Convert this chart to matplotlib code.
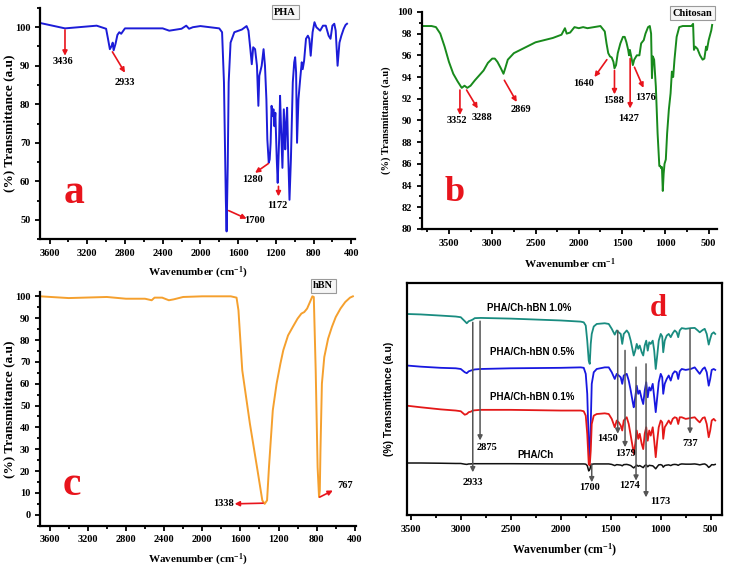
import matplotlib
matplotlib.use("Agg")
import matplotlib.pyplot as plt
from matplotlib.ticker import MultipleLocator

plt.rcParams['font.family'] = 'Liberation Serif'
plt.rcParams['font.weight'] = 'bold'
plt.rcParams['mathtext.fontset'] = 'custom'
plt.rcParams['mathtext.rm'] = 'Liberation Serif:bold'
plt.rcParams['mathtext.bf'] = 'Liberation Serif:bold'
plt.rcParams['mathtext.default'] = 'rm'

# ---- panel a: PHA ----
pha_wn = [3700, 3436, 3100, 3000, 2980, 2960, 2940, 2930, 2920, 2900, 2880, 2860, 2840, 2800,
          2400, 2330, 2200, 2150, 2120, 2080, 2000, 1800, 1770, 1750, 1730, 1722, 1710, 1700,
          1680, 1640, 1560, 1510, 1490, 1470, 1455, 1440, 1420, 1400, 1385, 1375, 1350, 1330,
          1315, 1300, 1290, 1275, 1265, 1255, 1245, 1235, 1225, 1215, 1205, 1190, 1180, 1165,
          1155, 1145, 1130, 1115, 1100, 1090, 1080, 1070, 1055, 1040, 1020, 1005, 995, 985,
          975, 960, 940, 925, 915, 900, 880, 860, 845, 830, 810, 790, 770, 730, 700, 670,
          640, 620, 600, 580, 565, 545, 525, 505, 480, 460, 445]
pha_t = [101.1, 99.7, 100.4, 99.6, 97.0, 94.3, 95.2, 96.0, 94.0, 95.7, 98.0, 98.7, 98.3, 99.7,
         99.7, 99.1, 99.6, 100.4, 99.6, 100.0, 100.3, 99.7, 98.7, 85.7, 55.0, 47.0, 64.0, 85.7,
         96.0, 98.7, 99.4, 100.3, 99.1, 94.3, 90.4, 94.8, 94.3, 90.0, 79.6, 87.4, 90.0, 94.3,
         90.0, 81.3, 70.9, 64.8, 65.7, 70.0, 79.6, 77.0, 78.7, 74.3, 77.8, 65.7, 59.6, 70.9,
         82.2, 74.3, 63.5, 78.7, 68.3, 75.2, 79.1, 68.3, 55.2, 65.7, 85.7, 90.9, 92.2, 88.3,
         70.0, 81.3, 87.0, 90.9, 89.1, 91.3, 97.0, 97.8, 97.0, 92.6, 98.7, 101.3, 100.0, 99.1, 100.4, 100.4,
         97.8, 97.0, 100.4, 100.9, 99.1, 90.0, 96.0, 97.8, 99.6, 100.6, 100.9]

# ---- panel b: Chitosan ----
chit_wn = [3800, 3700, 3650, 3600, 3550, 3500, 3450, 3400, 3352, 3320, 3288, 3250, 3200, 3100,
           3050, 3000, 2970, 2940, 2900, 2870, 2850, 2820, 2750, 2500, 2300, 2200, 2160, 2140,
           2100, 2050, 2000, 1950, 1900, 1750, 1700, 1680, 1660, 1640, 1620, 1600, 1588, 1570,
           1550, 1520, 1490, 1470, 1450, 1430, 1420, 1410, 1390, 1376, 1360, 1330, 1300, 1280,
           1250, 1230, 1200, 1180, 1165, 1155, 1145, 1130, 1110, 1090, 1070, 1060, 1050, 1040,
           1030, 1020, 1010, 995, 980, 960, 940, 925, 910, 895, 870, 840, 800, 700, 680, 670,
           655, 630, 600, 570, 550, 530, 520, 500, 470, 460]
chit_t = [98.7, 98.7, 98.6, 98.0, 96.8, 95.4, 94.3, 93.6, 93.0, 93.2, 93.0, 93.2, 93.7, 94.6,
          95.3, 95.7, 95.7, 95.4, 94.8, 94.3, 94.8, 95.6, 96.2, 97.2, 97.6, 97.9, 98.5, 98.0,
          98.1, 98.6, 98.5, 98.6, 98.5, 98.7, 98.2, 97.1, 96.2, 95.9, 95.8, 95.4, 94.8, 95.1,
          96.2, 97.1, 97.7, 97.7, 97.2, 96.5, 96.0, 96.5, 95.7, 95.1, 95.6, 96.0, 96.0, 97.1,
          97.4, 98.0, 98.6, 98.7, 98.0, 93.9, 95.9, 95.6, 93.1, 88.8, 85.8, 85.8, 85.6, 85.7,
          83.5, 85.1, 86.0, 86.4, 88.8, 91.0, 92.5, 94.5, 94.0, 95.6, 97.7, 98.6, 98.7, 98.7, 98.9, 96.5,
          96.8, 96.6, 96.0, 95.6, 95.7, 96.8, 96.5, 97.4, 98.3, 98.8]

# ---- panel c: hBN ----
hbn_wn = [3700, 3400, 3000, 2800, 2600, 2530, 2500, 2420, 2350, 2300, 2200, 2000, 1700, 1640,
          1620, 1580, 1500, 1420, 1370, 1345, 1320, 1300, 1260, 1220, 1180, 1150, 1100, 1050,
          1000, 960, 930, 900, 870, 845, 830, 810, 790, 775, 767, 760, 745, 720, 680, 640,
          600, 550, 500, 450, 420]
hbn_t = [100.0, 99.2, 99.7, 98.9, 98.9, 98.2, 99.4, 99.4, 98.2, 98.6, 99.7, 100.0, 100.0, 99.4,
         93.6, 66.1, 41.7, 20.3, 6.6, 5.0, 6.6, 21.8, 47.8, 60.0, 69.2, 75.3, 82.1, 86.0,
         89.8, 92.1, 92.8, 94.4, 97.4, 100.0, 99.7, 66.0, 21.8, 8.1, 11.1, 29.5, 60.0, 72.2, 80.6, 86.0,
         90.5, 94.4, 97.4, 99.4, 100.0]

# ---- panel d: composites (arbitrary offset units) ----
comp_wn = [3540, 3400, 3200, 3050, 3000, 2960, 2940, 2920, 2900, 2880, 2860, 2800, 2500, 2000,
           1800, 1770, 1750, 1735, 1720, 1710, 1700, 1690, 1670, 1640, 1560, 1520, 1490, 1460,
           1440, 1420, 1400, 1385, 1370, 1340, 1320, 1300, 1280, 1270, 1255, 1240, 1225, 1210,
           1190, 1175, 1160, 1145, 1130, 1115, 1100, 1080, 1065, 1050, 1035, 1020, 1000, 985,
           975, 960, 940, 920, 900, 880, 860, 840, 825, 810, 790, 750, 700, 660, 630, 610,
           580, 560, 540, 520, 505, 490, 470, 455]
hbn_10 = [86.6, 86.4, 85.9, 85.5, 85.2, 83.5, 82.6, 83.5, 83.8, 84.2, 84.8, 84.9, 84.6, 83.8,
          83.3, 83.0, 81.6, 75.1, 66.5, 65.1, 73.7, 78.0, 81.2, 82.3, 82.6, 82.3, 80.2, 77.7,
          79.5, 78.7, 78.0, 73.7, 78.0, 79.5, 78.3, 75.1, 70.8, 68.7, 70.8, 73.7, 71.6, 73.0,
          70.1, 68.7, 73.0, 75.1, 70.8, 74.4, 73.7, 75.1, 70.8, 62.9, 68.7, 75.1, 78.0, 76.9,
          70.1, 75.1, 77.3, 78.0, 76.6, 78.3, 79.5, 78.7, 76.6, 79.5, 80.5, 80.2, 80.5, 80.6, 79.5, 78.7,
          79.7, 80.2, 78.0, 73.4, 75.9, 78.0, 78.7, 78.0]
hbn_05 = [64.4, 63.9, 63.4, 63.2, 62.9, 61.5, 61.1, 61.9, 62.2, 62.5, 62.7, 62.9, 63.2, 63.4,
          63.6, 63.4, 60.8, 52.2, 30.6, 23.4, 39.2, 56.5, 61.5, 62.9, 63.6, 63.6, 61.5, 58.6,
          60.8, 60.1, 59.3, 56.5, 60.1, 60.8, 57.9, 53.6, 48.6, 46.4, 50.7, 55.7, 52.2, 53.6,
          50.0, 47.8, 53.6, 57.2, 50.7, 55.0, 53.6, 56.5, 50.7, 44.3, 50.7, 57.2, 60.8, 59.3,
          52.2, 56.5, 58.6, 60.1, 57.9, 60.8, 61.9, 61.5, 58.6, 61.9, 62.9, 62.5, 62.9, 63.6, 61.9, 60.8,
          62.9, 63.6, 61.5, 55.7, 58.6, 62.5, 62.9, 62.5]
hbn_01 = [47.1, 46.4, 45.5, 45.0, 44.7, 43.2, 43.5, 44.3, 44.5, 45.0, 45.1, 45.3, 45.3, 45.0,
          45.0, 44.7, 42.8, 34.9, 22.0, 21.3, 27.7, 39.2, 42.8, 43.5, 43.8, 43.5, 41.4, 37.8,
          40.7, 39.9, 38.5, 36.4, 40.7, 42.1, 39.2, 34.2, 29.2, 26.3, 30.6, 36.4, 32.8, 35.0,
          30.6, 28.4, 35.0, 37.8, 32.0, 36.4, 34.2, 37.8, 32.0, 24.9, 32.0, 37.8, 40.7, 39.9,
          32.8, 37.8, 39.2, 40.7, 39.2, 41.4, 42.1, 41.8, 39.2, 42.1, 42.1, 41.4, 41.8, 42.1, 40.7, 39.9,
          41.8, 42.1, 39.2, 33.5, 36.4, 40.7, 41.4, 40.7]
pha_ch = [22.4, 22.4, 22.3, 22.2, 22.2, 21.9, 21.8, 22.0, 22.0, 22.1, 22.1, 22.1, 22.1, 22.0,
          22.0, 22.0, 21.9, 21.3, 19.0, 19.6, 21.0, 21.8, 22.0, 22.0, 22.0, 22.0, 21.8, 21.3,
          21.7, 21.6, 21.5, 21.2, 21.7, 21.8, 21.6, 21.3, 20.6, 20.3, 20.9, 21.5, 21.0, 21.3,
          20.8, 20.4, 21.3, 21.6, 20.8, 21.4, 21.3, 21.2, 20.6, 19.9, 20.8, 21.6, 21.7, 21.4,
          20.6, 21.3, 21.5, 21.6, 21.3, 21.7, 21.8, 21.7, 21.4, 21.8, 22.0, 21.9, 21.9, 22.0, 21.8, 21.6,
          21.9, 22.0, 21.5, 20.5, 21.0, 21.7, 21.6, 21.8]

fig = plt.figure(figsize=(7.29, 5.68), dpi=100)
ax_a = fig.add_axes([0.055, 0.579, 0.432, 0.407])
ax_b = fig.add_axes([0.579, 0.597, 0.405, 0.382])
ax_c = fig.add_axes([0.055, 0.0745, 0.433, 0.4115])
ax_d = fig.add_axes([0.558, 0.0933, 0.432, 0.4087])

TICK = 7.5


def style(ax, xmaj, xmin, ymaj, ymin, open_box=True):
    ax.xaxis.set_major_locator(MultipleLocator(xmaj))
    ax.xaxis.set_minor_locator(MultipleLocator(xmin))
    if ymaj:
        ax.yaxis.set_major_locator(MultipleLocator(ymaj))
        ax.yaxis.set_minor_locator(MultipleLocator(ymin))
    ax.tick_params(which='both', direction='out', width=1.3, labelsize=TICK)
    ax.tick_params(which='major', length=3.5)
    ax.tick_params(which='minor', length=2)
    for s in ax.spines.values():
        s.set_linewidth(1.6)
    if open_box:
        ax.spines['top'].set_visible(False)
        ax.spines['right'].set_visible(False)
    for lab in ax.get_xticklabels() + ax.get_yticklabels():
        lab.set_fontweight('bold')


def red_arrow(ax, xy_from, xy_to):
    ax.annotate('', xy=xy_to, xytext=xy_from,
                arrowprops=dict(arrowstyle='-|>', color='#e8141c', lw=1.2, mutation_scale=7,
                                shrinkA=0, shrinkB=0))


def box_label(ax, x, y, s):
    ax.text(x, y, s, fontsize=7.5, fontweight='bold', ha='center', va='center', clip_on=False,
            bbox=dict(boxstyle='square,pad=0.25', fc='#f6f6f6', ec='#9a9a9a', lw=0.8))


# panel a
ax_a.plot(pha_wn, pha_t, color='#1c1cd8', lw=1.4)
ax_a.set_xlim(3700, 360)
ax_a.set_ylim(45, 105)
style(ax_a, 400, 200, 10, 5)
ax_a.set_xlabel('Wavenumber (cm$^{-1}$)', fontsize=8, fontweight='bold')
ax_a.set_ylabel('(%) Transmittance (a.u)', fontsize=9.5, fontweight='bold')
ax_a.xaxis.set_label_coords(0.5, -0.113)
ax_a.yaxis.set_label_coords(-0.079, 0.5)
box_label(ax_a, 1100, 103.9, 'PHA')
ax_a.text(3340, 57, 'a', color='#e8141c', fontsize=30, fontweight='bold', ha='center', va='center')
red_arrow(ax_a, (3436, 99.3), (3436, 92.6))
ax_a.text(3462, 91.2, '3436', fontsize=7.5, fontweight='bold', ha='center', va='center')
red_arrow(ax_a, (2933, 93.6), (2800, 88.2))
ax_a.text(2800, 85.6, '2933', fontsize=7.5, fontweight='bold', ha='center', va='center')
red_arrow(ax_a, (1280, 64.6), (1420, 62.2))
ax_a.text(1450, 60.5, '1280', fontsize=7.5, fontweight='bold', ha='center', va='center')
red_arrow(ax_a, (1172, 58.7), (1172, 56.1))
ax_a.text(1180, 53.7, '1172', fontsize=7.5, fontweight='bold', ha='center', va='center')
red_arrow(ax_a, (1700, 52.4), (1510, 50.3))
ax_a.text(1430, 49.8, '1700', fontsize=7.5, fontweight='bold', ha='center', va='center')

# panel b
ax_b.plot(chit_wn, chit_t, color='#188a1c', lw=1.4)
ax_b.set_xlim(3810, 400)
ax_b.set_ylim(80, 100)
style(ax_b, 500, 250, 2, 1)
ax_b.set_xlabel('Wavenumber cm$^{-1}$', fontsize=8, fontweight='bold')
ax_b.set_ylabel('(%) Transmittance (a.u)', fontsize=7.5, fontweight='bold')
ax_b.xaxis.set_label_coords(0.5, -0.129)
ax_b.yaxis.set_label_coords(-0.105, 0.5)
box_label(ax_b, 685, 99.9, 'Chitosan')
ax_b.text(3430, 83.4, 'b', color='#e8141c', fontsize=26, fontweight='bold', ha='center', va='center')
for (x0, y0, x1, y1, tx, ty, s) in [(3373, 92.8, 3373, 90.5, 3411, 90.0, '3352'),
                                     (3296, 92.8, 3168, 91.1, 3122, 90.3, '3288'),
                                     (2860, 93.7, 2717, 91.7, 2667, 91.0, '2869'),
                                     (1676, 95.6, 1819, 94.0, 1946, 93.4, '1640'),
                                     (1588, 94.6, 1588, 92.4, 1595, 91.8, '1588'),
                                     (1407, 95.7, 1407, 91.1, 1426, 90.2, '1427'),
                                     (1357, 94.9, 1253, 93.0, 1226, 92.1, '1376')]:
    red_arrow(ax_b, (x0, y0), (x1, y1))
    ax_b.text(tx, ty, s, fontsize=7.5, fontweight='bold', ha='center', va='center')

# panel c
ax_c.plot(hbn_wn, hbn_t, color='#f5a02e', lw=1.4)
ax_c.set_xlim(3700, 390)
ax_c.set_ylim(-5, 102)
style(ax_c, 400, 200, 10, 5)
ax_c.set_xlabel('Wavenumber (cm$^{-1}$)', fontsize=8, fontweight='bold')
ax_c.set_ylabel('(%) Transmittance (a.u)', fontsize=9.5, fontweight='bold')
ax_c.xaxis.set_label_coords(0.5, -0.113)
ax_c.yaxis.set_label_coords(-0.079, 0.5)
box_label(ax_c, 732, 104.8, 'hBN')
ax_c.text(3366, 13.4, 'c', color='#e8141c', fontsize=30, fontweight='bold', ha='center', va='center')
red_arrow(ax_c, (1362, 5.3), (1660, 5.0))
ax_c.text(1665, 5.0, '1338', fontsize=7.5, fontweight='bold', ha='right', va='center')
red_arrow(ax_c, (767, 8.1), (630, 11.1))
ax_c.text(500, 13.4, '767', fontsize=7.5, fontweight='bold', ha='center', va='center')

# panel d
ax_d.plot(comp_wn, hbn_10, color='#198c80', lw=1.3)
ax_d.plot(comp_wn, hbn_05, color='#1818e0', lw=1.3)
ax_d.plot(comp_wn, hbn_01, color='#e41818', lw=1.3)
ax_d.plot(comp_wn, pha_ch, color='#111111', lw=1.1)
ax_d.set_xlim(3540, 390)
ax_d.set_ylim(0, 100)
style(ax_d, 500, 250, None, None, open_box=False)
ax_d.set_yticks([])
ax_d.set_xlabel('Wavenumber (cm$^{-1}$)', fontsize=8.5, fontweight='bold')
ax_d.set_ylabel('(%) Transmittance (a.u)', fontsize=7.5, fontweight='bold',
                family='Liberation Sans')
ax_d.xaxis.set_label_coords(0.5, -0.116)
ax_d.yaxis.set_label_coords(-0.041, 0.5)
for s, x, y in [('PHA/Ch-hBN 1.0%', 2317, 89.2), ('PHA/Ch-hBN 0.5%', 2283, 70.1),
                ('PHA/Ch-hBN 0.1%', 2290, 51.0), ('PHA/Ch', 2250, 26.0)]:
    ax_d.text(x, y, s, fontsize=7, fontweight='bold', family='Liberation Sans',
              ha='center', va='center')
ax_d.text(1023, 88.8, 'd', color='#e8141c', fontsize=22, fontweight='bold', ha='center', va='center')
for (x, y0, y1, tx, ty, s) in [(2880, 83.0, 18.4, 2875, 14.1, '2933'),
                               (2807, 83.5, 32.1, 2740, 28.9, '2875'),
                               (1690, 22.0, 14.1, 1713, 11.9, '1700'),
                               (1430, 79.5, 35.0, 1530, 32.8, '1450'),
                               (1357, 70.9, 29.2, 1350, 26.3, '1379'),
                               (1247, 63.7, 14.8, 1307, 12.6, '1274'),
                               (1147, 65.1, 7.6, 1007, 5.9, '1173'),
                               (707, 80.2, 35.0, 707, 31.0, '737')]:
    ax_d.annotate('', xy=(x, y1), xytext=(x, y0),
                  arrowprops=dict(arrowstyle='-|>', color='#555555', lw=1.1, mutation_scale=7,
                                  shrinkA=0, shrinkB=0))
    ax_d.text(tx, ty, s, fontsize=7.5, fontweight='bold', ha='center', va='center')

fig.savefig('out.png', dpi=100)
